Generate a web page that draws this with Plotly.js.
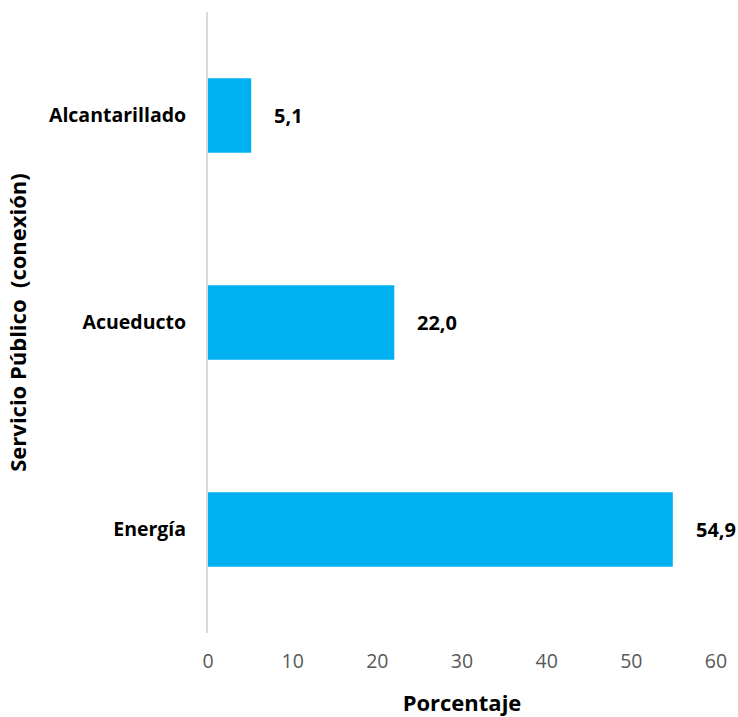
<!DOCTYPE html>
<html>
<head>
<meta charset="utf-8">
<script src="https://cdn.plot.ly/plotly-3.0.1.min.js"></script>
<style>html,body{margin:0;padding:0;background:#fff;}#chart{width:738px;height:717px;}</style>
</head>
<body>
<div id="chart"></div>
<script>
const categories = ["Energía", "Acueducto", "Alcantarillado"];
const values = [54.9, 22.0, 5.1];
const valueLabels = ["54,9", "22,0", "5,1"];
const xTicks = [0, 10, 20, 30, 40, 50, 60];

const FONT = "Open Sans, Noto Sans, sans-serif";

const trace = {
  type: "bar",
  orientation: "h",
  y: categories,
  x: values,
  marker: {color: "#00B0F0"},
  hoverinfo: "skip"
};

const annotations = categories.map((c, i) => ({
  x: values[i], y: c, xref: "x", yref: "y",
  text: "<b>" + valueLabels[i] + "</b>",
  showarrow: false, xanchor: "left", xshift: 21,
  font: {family: FONT, size: 20, color: "#000"}
}));

const layout = {
  width: 738, height: 717,
  margin: {l: 208, r: 22, t: 12, b: 84},
  paper_bgcolor: "#fff", plot_bgcolor: "#fff",
  showlegend: false,
  bargap: 0.64,
  font: {family: FONT},
  xaxis: {
    range: [0, 60], tickvals: xTicks, ticktext: xTicks.map(String),
    showgrid: false, zeroline: false, showline: false, ticks: "",
    tickfont: {family: FONT, size: 19.5, color: "#595959"},
    ticklabelstandoff: 14,
    title: {text: "<b>Porcentaje</b>", font: {family: FONT, size: 22, color: "#000"}, standoff: 24}
  },
  yaxis: {
    showgrid: false, zeroline: false, showline: true, linecolor: "#d9d9d9", linewidth: 2,
    ticks: "", tickfont: {family: FONT, size: 19.5, color: "#000"},
    ticklabelstandoff: 16,
    title: {text: "<b>Servicio Público  (conexión)</b>", font: {family: FONT, size: 22, color: "#000"}, standoff: 16}
  },
  annotations: annotations
};
layout.yaxis.tickvals = categories;
layout.yaxis.ticktext = categories.map(c => "<b>" + c + "</b>");

Plotly.newPlot("chart", [trace], layout, {displayModeBar: false, staticPlot: true});
</script>
</body>
</html>
